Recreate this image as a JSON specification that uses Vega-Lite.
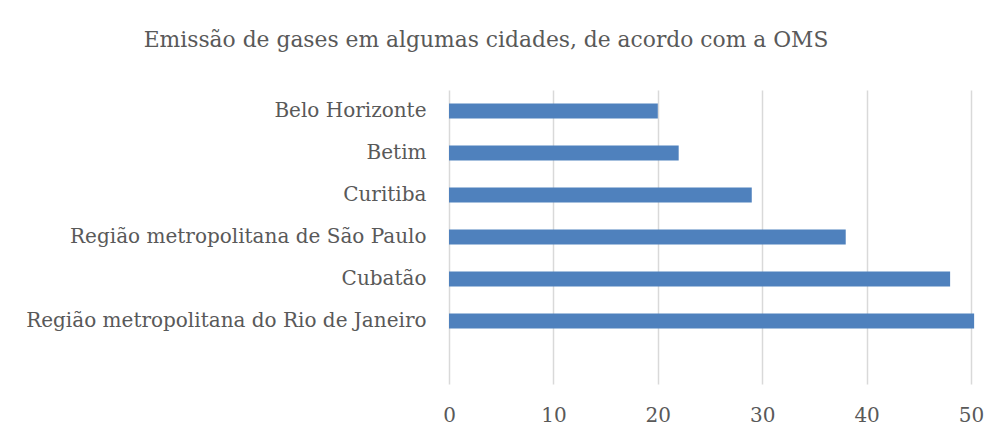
{
  "$schema": "https://vega.github.io/schema/vega-lite/v6.json",
  "autosize": "none",
  "width": 522,
  "height": 294,
  "padding": {"left": 449, "top": 90, "right": 32, "bottom": 58},
  "background": "white",
  "title": {
    "text": "Emissão de gases em algumas cidades, de acordo com a OMS",
    "font": "DejaVu Serif",
    "fontSize": 21.8,
    "fontWeight": "normal",
    "color": "#595959",
    "anchor": "middle",
    "dx": -224,
    "offset": 38
  },
  "data": {
    "values": [
      {"cidade": "Belo Horizonte", "valor": 20},
      {"cidade": "Betim", "valor": 22},
      {"cidade": "Curitiba", "valor": 29},
      {"cidade": "Região metropolitana de São Paulo", "valor": 38},
      {"cidade": "Cubatão", "valor": 48},
      {"cidade": "Região metropolitana do Rio de Janeiro", "valor": 50.3}
    ]
  },
  "mark": {"type": "bar", "color": "#4f81bd", "size": 15},
  "encoding": {
    "y": {
      "field": "cidade",
      "type": "nominal",
      "sort": null,
      "title": null,
      "scale": {
        "domain": ["Belo Horizonte", "Betim", "Curitiba", "Região metropolitana de São Paulo", "Cubatão", "Região metropolitana do Rio de Janeiro", " "],
        "paddingInner": 0,
        "paddingOuter": 0
      },
      "axis": {
        "domain": false,
        "ticks": false,
        "grid": false,
        "labelPadding": 23,
        "labelFont": "DejaVu Serif",
        "labelFontSize": 20,
        "labelColor": "#595959",
        "labelLimit": 0
      }
    },
    "x": {
      "field": "valor",
      "type": "quantitative",
      "title": null,
      "scale": {"domain": [0, 50], "nice": false},
      "axis": {
        "values": [0, 10, 20, 30, 40, 50],
        "domain": false,
        "ticks": false,
        "grid": true,
        "gridColor": "#d9d9d9",
        "gridWidth": 1.5,
        "labelFlush": false,
        "labelPadding": 21,
        "labelFont": "DejaVu Serif",
        "labelFontSize": 20,
        "labelColor": "#595959",
        "labelBaseline": "top"
      }
    }
  },
  "config": {"view": {"stroke": null}}
}
